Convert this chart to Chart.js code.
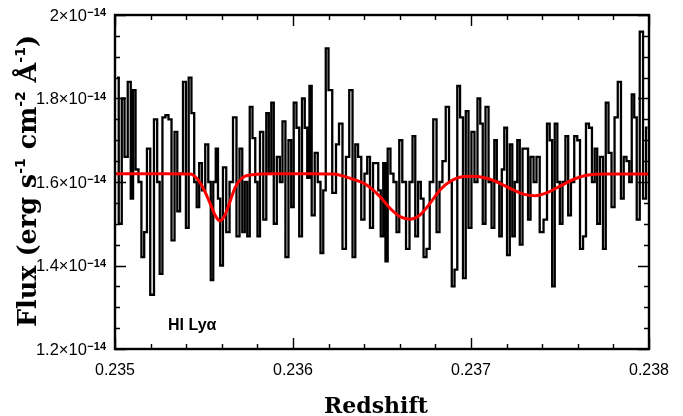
<!DOCTYPE html>
<html><head><meta charset="utf-8">
<script src="https://cdn.jsdelivr.net/npm/chart.js@4/dist/chart.umd.min.js"></script>
<style>html,body{margin:0;padding:0;background:#fff;}#wrap{width:683px;height:416px;position:relative;}</style>
</head><body><div id="wrap"><canvas id="c" width="683" height="416"></canvas></div>
<script>
// Observed spectrum (step histogram): redshift of each bin and flux in units of 1e-14 erg/s/cm2/A
const redshift = [0.235011,0.235031,0.235045,0.235062,0.235081,0.235096,0.235107,0.235124,0.235140,0.235157,0.235171,0.235188,0.235208,0.235230,0.235244,0.235258,0.235275,0.235292,0.235309,0.235326,0.235343,0.235357,0.235374,0.235390,0.235407,0.235421,0.235438,0.235452,0.235466,0.235480,0.235497,0.235517,0.235531,0.235545,0.235559,0.235573,0.235584,0.235598,0.235615,0.235635,0.235652,0.235674,0.235691,0.235708,0.235722,0.235736,0.235750,0.235764,0.235781,0.235795,0.235806,0.235823,0.235843,0.235857,0.235871,0.235885,0.235899,0.235919,0.235933,0.235949,0.235966,0.235983,0.235997,0.236011,0.236028,0.236042,0.236059,0.236073,0.236087,0.236098,0.236112,0.236132,0.236146,0.236163,0.236177,0.236191,0.236208,0.236233,0.236250,0.236267,0.236289,0.236306,0.236326,0.236343,0.236357,0.236374,0.236393,0.236410,0.236424,0.236441,0.236458,0.236472,0.236486,0.236500,0.236514,0.236525,0.236539,0.236556,0.236573,0.236590,0.236604,0.236624,0.236646,0.236663,0.236680,0.236694,0.236711,0.236725,0.236742,0.236758,0.236778,0.236798,0.236815,0.236831,0.236848,0.236868,0.236885,0.236899,0.236916,0.236930,0.236947,0.236963,0.236978,0.236994,0.237011,0.237028,0.237045,0.237059,0.237073,0.237090,0.237107,0.237124,0.237138,0.237152,0.237166,0.237180,0.237194,0.237211,0.237225,0.237239,0.237253,0.237267,0.237281,0.237298,0.237315,0.237326,0.237343,0.237360,0.237376,0.237396,0.237419,0.237435,0.237449,0.237463,0.237478,0.237492,0.237506,0.237522,0.237539,0.237553,0.237570,0.237590,0.237604,0.237621,0.237638,0.237654,0.237671,0.237688,0.237702,0.237716,0.237733,0.237750,0.237764,0.237781,0.237798,0.237815,0.237834,0.237851,0.237865,0.237882,0.237896,0.237910,0.237924,0.237938,0.237958,0.237975,0.237992];
const flux = [1.85,1.50,1.80,1.66,1.84,1.56,1.82,1.63,1.60,1.42,1.48,1.68,1.33,1.75,1.60,1.38,1.755,1.76,1.75,1.46,1.72,1.53,1.62,1.84,1.49,1.85,1.765,1.60,1.54,1.645,1.58,1.69,1.60,1.365,1.60,1.68,1.56,1.40,1.635,1.48,1.60,1.755,1.47,1.68,1.48,1.60,1.47,1.78,1.705,1.60,1.47,1.72,1.51,1.765,1.62,1.79,1.50,1.66,1.60,1.745,1.42,1.70,1.54,1.79,1.73,1.47,1.80,1.73,1.61,1.83,1.52,1.67,1.60,1.43,1.58,1.92,1.82,1.574,1.69,1.74,1.44,1.66,1.82,1.42,1.69,1.66,1.51,1.62,1.66,1.49,1.645,1.645,1.58,1.47,1.645,1.41,1.68,1.62,1.60,1.48,1.70,1.60,1.44,1.60,1.71,1.47,1.60,1.56,1.42,1.44,1.60,1.75,1.48,1.60,1.65,1.78,1.60,1.35,1.39,1.83,1.755,1.37,1.77,1.49,1.72,1.60,1.80,1.74,1.50,1.78,1.60,1.49,1.70,1.60,1.47,1.63,1.73,1.425,1.69,1.47,1.60,1.70,1.45,1.68,1.68,1.51,1.66,1.60,1.66,1.48,1.51,1.74,1.70,1.35,1.74,1.60,1.50,1.60,1.71,1.52,1.60,1.71,1.70,1.44,1.47,1.74,1.73,1.60,1.68,1.50,1.66,1.44,1.79,1.67,1.54,1.755,1.84,1.56,1.66,1.65,1.60,1.81,1.755,1.51,1.96,1.56,1.73];
// Absorption model (red curve)
const modelRedshift = [0.235000,0.235300,0.235421,0.235459,0.235496,0.235534,0.235567,0.235590,0.235618,0.235646,0.235674,0.235712,0.235758,0.235900,0.236100,0.236225,0.236320,0.236414,0.236489,0.236545,0.236601,0.236657,0.236713,0.236770,0.236826,0.236882,0.236957,0.237013,0.237088,0.237163,0.237238,0.237294,0.237360,0.237425,0.237500,0.237575,0.237650,0.237762,0.237900,0.238000];
const modelFlux = [1.620,1.620,1.619,1.609,1.585,1.549,1.517,1.507,1.521,1.553,1.586,1.609,1.617,1.620,1.620,1.619,1.609,1.593,1.565,1.537,1.517,1.511,1.521,1.549,1.581,1.601,1.613,1.614,1.609,1.597,1.581,1.571,1.567,1.574,1.590,1.606,1.616,1.619,1.619,1.619];
// Axis ticks
const xMajorTicks = [0.235,0.236,0.237,0.238];
const xTickLabels = ['0.235','0.236','0.237','0.238'];
const yMajorTicks = [1.2,1.4,1.6,1.8,2.0];
const yTickBase = ['1.2×10','1.4×10','1.6×10','1.8×10','2×10'];
const yTickExp = '−14';
const xTitle = 'Redshift';
const lineLabel = 'HI Lyα';

const spectrumData = redshift.map((z,i)=>({x:z,y:flux[i]}));
const modelData = modelRedshift.map((z,i)=>({x:z,y:modelFlux[i]}));

const axesPlugin = {
  id:'axesPlugin',
  afterDraw(chart){
    const ctx = chart.ctx, xs = chart.scales.x, ys = chart.scales.y, a = chart.chartArea;
    ctx.save();
    ctx.strokeStyle = '#000'; ctx.fillStyle = '#000';
    ctx.lineWidth = 1.4;
    ctx.beginPath();
    for (let k=0;k<=15;k++){
      const v = 0.235 + k*0.0002;
      const px = Math.round(xs.getPixelForValue(v))+0.5;
      const len = (k%5===0)?11:5;
      ctx.moveTo(px,a.bottom); ctx.lineTo(px,a.bottom-len);
      ctx.moveTo(px,a.top); ctx.lineTo(px,a.top+len);
    }
    for (let k=0;k<=16;k++){
      const v = 1.2 + k*0.05;
      const py = Math.round(ys.getPixelForValue(v))+0.5;
      const len = (k%4===0)?11:5;
      ctx.moveTo(a.left,py); ctx.lineTo(a.left+len,py);
      ctx.moveTo(a.right,py); ctx.lineTo(a.right-len,py);
    }
    ctx.stroke();
    ctx.lineWidth = 2.4;
    ctx.strokeRect(a.left, a.top, a.right-a.left, a.bottom-a.top);
    // x tick labels
    ctx.font = '16px "Liberation Sans", Arial, sans-serif';
    ctx.textAlign = 'center'; ctx.textBaseline = 'alphabetic';
    xMajorTicks.forEach((v,i)=>{
      ctx.fillText(xTickLabels[i], xs.getPixelForValue(v), 375);
    });
    // y tick labels with superscript exponent
    yMajorTicks.forEach((v,i)=>{
      const py = ys.getPixelForValue(v);
      ctx.font = 'bold 11px "Liberation Sans", Arial, sans-serif';
      const ew = ctx.measureText(yTickExp).width;
      ctx.textAlign = 'right';
      ctx.fillText(yTickExp, 106, py+1);
      ctx.font = '16.5px "Liberation Sans", Arial, sans-serif';
      ctx.fillText(yTickBase[i], 106-ew-0.5, py+5.5);
    });
    // x title
    ctx.font = 'bold 22px "DejaVu Serif", serif';
    ctx.textAlign = 'center';
    ctx.fillText(xTitle, 376, 413);
    // y title (rotated) with superscripts
    const parts = [['Flux (erg s',0],['-1',1],[' cm',0],['-2',1],[' Å',0],['-1',1],[')',0]];
    const fMain = 'bold 25.5px "DejaVu Serif", serif', fSup = 'bold 14px "DejaVu Sans", sans-serif';
    let total = 0;
    parts.forEach(p=>{ctx.font = p[1]?fSup:fMain; total += ctx.measureText(p[0]).width;});
    ctx.translate(36, 181);
    ctx.rotate(-Math.PI/2);
    ctx.textAlign = 'left';
    let cx = -total/2;
    parts.forEach(p=>{
      ctx.font = p[1]?fSup:fMain;
      ctx.fillText(p[0], cx, p[1]?-11:0);
      cx += ctx.measureText(p[0]).width;
    });
    ctx.restore();
    // line label
    ctx.save();
    ctx.font = 'bold 16px "Liberation Sans", Arial, sans-serif';
    ctx.fillStyle = '#000';
    ctx.textAlign = 'left';
    ctx.fillText(lineLabel, 168, 330);
    ctx.restore();
  }
};

new Chart(document.getElementById('c'), {
  type:'line',
  data:{datasets:[
    {label:'Model', data:modelData, borderColor:'#ff0000', borderWidth:3, pointRadius:0, fill:false, cubicInterpolationMode:'monotone', order:0},
    {label:'Spectrum', data:spectrumData, borderColor:'#000', borderWidth:2.3, pointRadius:0, fill:false, stepped:'middle', order:1}
  ]},
  options:{
    responsive:false, animation:false, devicePixelRatio:1,
    layout:{padding:{left:115, top:15, right:34, bottom:67}},
    plugins:{legend:{display:false}, tooltip:{enabled:false}},
    scales:{
      x:{type:'linear', min:0.235, max:0.238, display:false},
      y:{type:'linear', min:1.2, max:2.0, display:false}
    }
  },
  plugins:[axesPlugin]
});
</script></body></html>
